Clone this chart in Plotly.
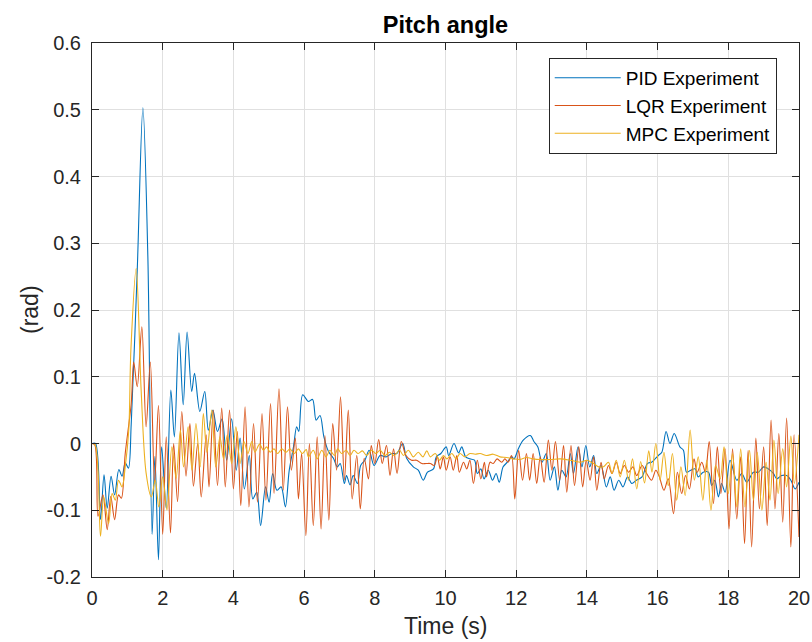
import plotly.graph_objects as go

# ---- data (time s, pitch rad) ----
pid_points = [
    (0, 0), (0.1, 0), (0.24, -0.114), (0.34, -0.047), (0.43, -0.097), (0.54, -0.049),
    (0.64, -0.077), (0.76, -0.039), (0.85, -0.049), (0.94, -0.029), (1.03, -0.037),
    (1.11, 0.03), (1.28, 0.26), (1.44, 0.503), (1.58, 0.28), (1.70, -0.136),
    (1.78, -0.019), (1.88, -0.174), (1.97, -0.005), (2.10, -0.097), (2.23, 0.08),
    (2.33, 0.01), (2.46, 0.166), (2.58, 0.058), (2.69, 0.167), (2.82, 0.078),
    (2.90, 0.105), (3.05, 0.048), (3.19, 0.078), (3.29, 0.02), (3.42, 0.05),
    (3.55, 0.018), (3.68, 0.037), (3.81, -0.025), (3.95, 0.037), (4.08, -0.04),
    (4.19, 0.008), (4.31, -0.068), (4.45, -0.018), (4.55, -0.083), (4.66, -0.073),
    (4.77, -0.123), (4.91, -0.065), (5.01, -0.088), (5.11, -0.045), (5.23, -0.07),
    (5.35, -0.065), (5.47, -0.095), (5.58, -0.04), (5.70, -0.005), (5.79, 0.025),
    (5.85, 0.018), (5.96, 0.073), (6.12, 0.063), (6.24, 0.066), (6.34, 0.035),
    (6.45, 0.042), (6.56, 0.01), (6.69, -0.012), (6.83, -0.022), (6.94, -0.035),
    (7.02, -0.03), (7.14, -0.06), (7.20, -0.048), (7.30, -0.062), (7.39, -0.048),
    (7.51, -0.06), (7.60, -0.033), (7.72, -0.025), (7.84, -0.01), (7.98, -0.033),
    (8.15, -0.018), (8.32, -0.02), (8.48, -0.015), (8.62, -0.015), (8.79, 0.0),
    (8.90, -0.022), (9.09, -0.035), (9.23, -0.04), (9.37, -0.055), (9.49, -0.043),
    (9.66, -0.038), (9.74, -0.02), (9.87, -0.015), (10.02, -0.005), (10.09, -0.018),
    (10.24, 0.0), (10.37, -0.014), (10.46, -0.005), (10.57, -0.02), (10.69, -0.023),
    (10.82, -0.025), (10.90, -0.045), (11.0, -0.038), (11.09, -0.053), (11.21, -0.04),
    (11.33, -0.055), (11.43, -0.045), (11.52, -0.058), (11.63, -0.035), (11.75, -0.028),
    (11.87, -0.02), (11.94, -0.023), (12.06, -0.008), (12.20, 0.005), (12.40, 0.012),
    (12.50, 0.003), (12.61, -0.005), (12.73, -0.028), (12.85, -0.015), (12.96, -0.055),
    (13.08, -0.035), (13.18, -0.07), (13.29, -0.04), (13.41, -0.05), (13.53, -0.015),
    (13.62, -0.045), (13.75, -0.005), (13.86, -0.035), (13.97, -0.003), (14.08, -0.035),
    (14.19, -0.018), (14.28, -0.045), (14.40, -0.033), (14.55, -0.065), (14.66, -0.05),
    (14.77, -0.07), (14.90, -0.055), (15.02, -0.065), (15.15, -0.05), (15.27, -0.06),
    (15.40, -0.055), (15.56, -0.05), (15.71, -0.03), (15.83, -0.028), (15.93, -0.023),
    (16.02, -0.018), (16.12, -0.013), (16.24, 0.018), (16.35, 0.0), (16.47, 0.015),
    (16.63, -0.005), (16.73, -0.01), (16.82, -0.043), (16.94, -0.04), (17.06, -0.038),
    (17.15, -0.05), (17.29, -0.043), (17.44, -0.043), (17.53, -0.063), (17.62, -0.055),
    (17.72, -0.08), (17.81, -0.06), (17.91, -0.073), (18.05, -0.025), (18.24, -0.055),
    (18.38, -0.045), (18.52, -0.058), (18.71, -0.043), (18.85, -0.043), (19.0, -0.035),
    (19.13, -0.038), (19.28, -0.045), (19.37, -0.053), (19.51, -0.048), (19.65, -0.048),
    (19.77, -0.055), (19.89, -0.068), (20.0, -0.058),
]

lqr_points = [
    (0, 0), (0.08, -0.002), (0.17, -0.109), (0.31, -0.077), (0.43, -0.129), (0.53, -0.079),
    (0.64, -0.114), (0.75, -0.077), (0.83, -0.082), (0.94, -0.015), (1.11, 0.06),
    (1.18, 0.122), (1.28, 0.085), (1.41, 0.175), (1.53, 0.025), (1.65, 0.122),
    (1.77, -0.06), (1.88, 0.057), (2.0, -0.136), (2.1, 0.01), (2.22, -0.134),
    (2.31, 0.0), (2.42, -0.087), (2.54, 0.048), (2.66, -0.049), (2.77, 0.03),
    (2.87, -0.064), (2.99, 0.0), (3.09, -0.08), (3.23, 0.013), (3.31, -0.065),
    (3.43, 0.05), (3.55, -0.063), (3.67, 0.053), (3.77, -0.065), (3.89, 0.05),
    (4.0, -0.068), (4.11, 0.018), (4.21, -0.093), (4.33, 0.055), (4.44, -0.095),
    (4.57, 0.03), (4.68, -0.088), (4.81, 0.045), (4.92, -0.085), (5.05, 0.06),
    (5.15, -0.075), (5.29, 0.082), (5.41, -0.07), (5.53, 0.055), (5.64, -0.04),
    (5.75, 0.008), (5.84, -0.083), (5.93, -0.015), (6.05, -0.138), (6.15, 0.0),
    (6.26, -0.123), (6.37, 0.01), (6.48, -0.128), (6.59, 0.012), (6.70, -0.115),
    (6.81, 0.03), (6.92, -0.04), (7.03, 0.07), (7.14, -0.055), (7.25, 0.05),
    (7.36, -0.083), (7.49, -0.018), (7.59, -0.098), (7.70, -0.022), (7.82, -0.053),
    (7.90, -0.003), (8.0, -0.03), (8.11, 0.006), (8.21, -0.03), (8.33, -0.003),
    (8.43, -0.048), (8.53, -0.008), (8.63, -0.045), (8.75, 0.003), (8.88, -0.018),
    (9.04, -0.025), (9.18, -0.025), (9.33, -0.03), (9.45, -0.03), (9.57, -0.03),
    (9.68, -0.033), (9.77, -0.02), (9.85, -0.038), (9.94, -0.02), (10.02, -0.04),
    (10.13, -0.02), (10.22, -0.04), (10.32, -0.018), (10.39, -0.043), (10.51, -0.028),
    (10.60, -0.038), (10.69, -0.025), (10.79, -0.06), (10.90, -0.025), (11.0, -0.053),
    (11.10, -0.028), (11.16, -0.05), (11.26, -0.028), (11.35, -0.03), (11.46, -0.023),
    (11.59, -0.028), (11.68, -0.023), (11.77, -0.028), (11.87, -0.018), (11.96, -0.083),
    (12.07, -0.01), (12.18, -0.055), (12.29, -0.015), (12.38, -0.055), (12.48, -0.015),
    (12.58, -0.06), (12.68, -0.02), (12.79, -0.058), (12.91, 0.005), (13.01, -0.04),
    (13.11, 0.003), (13.23, -0.055), (13.34, -0.003), (13.43, -0.073), (13.55, -0.003),
    (13.65, -0.063), (13.77, -0.005), (13.88, -0.065), (13.98, -0.025), (14.09, -0.055),
    (14.19, -0.02), (14.28, -0.07), (14.40, -0.028), (14.49, -0.053), (14.61, -0.033),
    (14.71, -0.045), (14.83, -0.028), (14.94, -0.045), (15.06, -0.033), (15.18, -0.043),
    (15.30, -0.035), (15.41, -0.048), (15.56, -0.033), (15.69, -0.045), (15.83, -0.055),
    (15.95, -0.04), (16.05, -0.05), (16.18, -0.07), (16.30, -0.053), (16.45, -0.105),
    (16.56, -0.043), (16.68, -0.075), (16.79, -0.048), (16.90, -0.068), (17.03, -0.023),
    (17.12, -0.043), (17.25, -0.028), (17.35, -0.043), (17.46, 0.003), (17.58, -0.09),
    (17.69, -0.005), (17.79, -0.075), (17.91, -0.008), (18.02, -0.128), (18.12, -0.008),
    (18.24, -0.113), (18.35, -0.02), (18.46, -0.15), (18.56, -0.01), (18.66, -0.155),
    (18.78, 0.008), (18.88, -0.098), (19.0, -0.005), (19.10, -0.123), (19.21, 0.035),
    (19.32, -0.098), (19.43, 0.015), (19.54, -0.118), (19.65, 0.038), (19.77, -0.155),
    (19.86, 0.013), (20.0, -0.14),
]

mpc_points = [
    (0, 0), (0.09, -0.002), (0.24, -0.139), (0.33, -0.08), (0.47, -0.12), (0.57, -0.075),
    (0.66, -0.085), (0.75, -0.055), (0.85, -0.065), (0.94, -0.035), (1.04, 0.02),
    (1.10, 0.14), (1.25, 0.262), (1.39, 0.08), (1.53, -0.044), (1.68, -0.08),
    (1.79, -0.055), (1.89, -0.095), (2.0, -0.05), (2.12, -0.1), (2.26, -0.005),
    (2.38, -0.052), (2.5, 0.02), (2.59, -0.035), (2.72, 0.025), (2.83, -0.04),
    (2.94, 0.03), (3.06, -0.035), (3.15, 0.045), (3.25, -0.013), (3.39, 0.05),
    (3.5, -0.035), (3.62, 0.01), (3.72, -0.023), (3.83, 0.013), (3.95, -0.03),
    (4.07, 0.025), (4.19, -0.03), (4.30, 0.003), (4.41, -0.015), (4.52, 0.003),
    (4.61, -0.013), (4.74, -0.001), (4.85, -0.01), (4.94, -0.005), (5.04, -0.013),
    (5.15, -0.008), (5.25, -0.015), (5.37, -0.008), (5.49, -0.013), (5.60, -0.008),
    (5.72, -0.015), (5.84, -0.008), (5.95, -0.015), (6.06, -0.009), (6.12, -0.02),
    (6.26, -0.01), (6.37, -0.023), (6.5, -0.01), (6.62, -0.02), (6.73, -0.01),
    (6.86, -0.018), (6.95, -0.008), (7.06, -0.015), (7.19, -0.01), (7.3, -0.018),
    (7.41, -0.01), (7.53, -0.015), (7.65, -0.011), (7.77, -0.018), (7.91, -0.01),
    (8.03, -0.015), (8.15, -0.01), (8.29, -0.018), (8.41, -0.013), (8.55, -0.018),
    (8.7, -0.01), (8.81, -0.018), (8.95, -0.01), (9.09, -0.02), (9.23, -0.013),
    (9.36, -0.02), (9.47, -0.011), (9.57, -0.02), (9.71, -0.015), (9.83, -0.025),
    (9.94, -0.018), (10.04, -0.023), (10.18, -0.015), (10.3, -0.023), (10.41, -0.015),
    (10.55, -0.02), (10.69, -0.015), (10.84, -0.016), (10.98, -0.015), (11.16, -0.018),
    (11.35, -0.016), (11.54, -0.02), (11.73, -0.021), (11.92, -0.023), (12.1, -0.024),
    (12.29, -0.021), (12.48, -0.023), (12.68, -0.024), (12.96, -0.024), (13.25, -0.023),
    (13.53, -0.025), (13.81, -0.028), (14.0, -0.025), (14.19, -0.03), (14.33, -0.035),
    (14.47, -0.035), (14.61, -0.028), (14.71, -0.045), (14.83, -0.025), (14.94, -0.05),
    (15.06, -0.025), (15.18, -0.055), (15.29, -0.023), (15.41, -0.068), (15.52, -0.027),
    (15.63, -0.059), (15.75, -0.011), (15.84, -0.043), (15.95, 0.0), (16.07, -0.055),
    (16.18, -0.013), (16.30, -0.063), (16.42, -0.015), (16.54, -0.085), (16.66, -0.035),
    (16.78, -0.078), (16.92, 0.02), (17.04, -0.055), (17.15, -0.02), (17.28, -0.085),
    (17.39, -0.025), (17.51, -0.1), (17.64, -0.033), (17.77, -0.053), (17.88, -0.005),
    (18.0, -0.075), (18.12, -0.015), (18.24, -0.095), (18.35, -0.008), (18.47, -0.095),
    (18.6, -0.01), (18.71, -0.085), (18.82, -0.013), (18.95, -0.1), (19.07, -0.028),
    (19.18, -0.085), (19.29, 0.005), (19.41, -0.075), (19.54, -0.008), (19.65, -0.065),
    (19.77, 0.011), (19.87, -0.06), (20.0, 0.013),
]

series_names = ["PID Experiment", "LQR Experiment", "MPC Experiment"]
series_colors = ["#0072BD", "#D95319", "#EDB120"]

x_tick_vals = [0, 2, 4, 6, 8, 10, 12, 14, 16, 18, 20]
y_tick_vals = [-0.2, -0.1, 0, 0.1, 0.2, 0.3, 0.4, 0.5, 0.6]
y_tick_text = ["-0.2", "-0.1", "0", "0.1", "0.2", "0.3", "0.4", "0.5", "0.6"]

FONT = "Liberation Sans, Arial, Helvetica, sans-serif"
AX = "#262626"

fig = go.Figure()
for pts, name, col in zip([pid_points, lqr_points, mpc_points], series_names, series_colors):
    fig.add_trace(go.Scatter(
        x=[p[0] for p in pts], y=[p[1] for p in pts], name=name, mode="lines",
        line=dict(color=col, width=1.1, shape="spline", smoothing=0.9),
    ))

axis_common = dict(
    showline=True, linecolor=AX, linewidth=1, mirror="ticks",
    ticks="inside", ticklen=7, tickcolor=AX, tickwidth=1,
    showgrid=True, gridcolor="#e0e0e0", gridwidth=1, zeroline=False,
    tickfont=dict(family=FONT, size=20, color=AX), automargin=False,
)

fig.update_layout(
    width=812, height=642,
    margin=dict(l=92, r=13, t=43, b=65, autoexpand=False),
    paper_bgcolor="white", plot_bgcolor="white",
    font=dict(family=FONT, color=AX),
    title=dict(text="<b>Pitch angle</b>", x=0.5, xref="paper", y=1 - 25 / 642,
               yref="container", xanchor="center", yanchor="middle",
               font=dict(family=FONT, size=23.5, color="black")),
    xaxis=dict(range=[0, 20], tickvals=x_tick_vals, ticklabelstandoff=3, **axis_common),
    yaxis=dict(range=[-0.2, 0.6], tickvals=y_tick_vals, ticktext=y_tick_text,
               ticklabelstandoff=6, **axis_common),
    legend=dict(x=0.646, y=0.972, xanchor="left", yanchor="top",
                bgcolor="white", bordercolor=AX, borderwidth=1,
                font=dict(family=FONT, size=19, color="black"),
                tracegroupgap=0, itemwidth=66),
    showlegend=True,
    annotations=[
        dict(text="Time (s)", xref="paper", yref="paper", x=0.5, y=-(626 - 577) / 534,
             xanchor="center", yanchor="middle", showarrow=False,
             font=dict(family=FONT, size=23, color=AX)),
        dict(text="(rad)", xref="paper", yref="paper", x=(30 - 92) / 707, y=0.5,
             xanchor="center", yanchor="middle", textangle=-90, showarrow=False,
             font=dict(family=FONT, size=23, color=AX)),
    ],
)

fig.write_html("out.html")
